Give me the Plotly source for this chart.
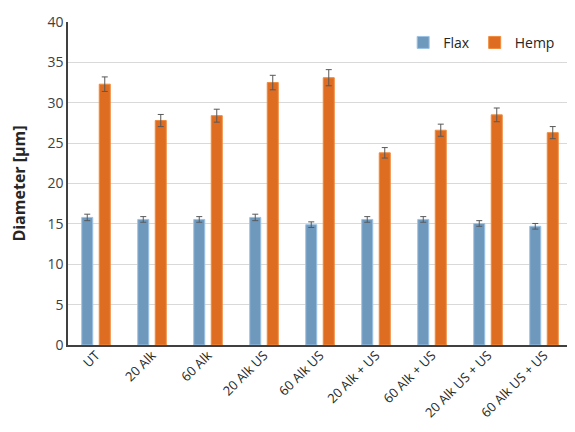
import plotly.graph_objects as go

categories = ["UT", "20 Alk", "60 Alk", "20 Alk US", "60 Alk US",
              "20 Alk + US", "60 Alk + US", "20 Alk US + US", "60 Alk US + US"]
flax = [15.8, 15.55, 15.55, 15.8, 14.9, 15.55, 15.55, 15.05, 14.7]
flax_err = [0.4, 0.35, 0.35, 0.4, 0.35, 0.35, 0.35, 0.35, 0.35]
hemp = [32.3, 27.8, 28.4, 32.5, 33.1, 23.8, 26.6, 28.5, 26.3]
hemp_err = [0.9, 0.75, 0.8, 0.9, 1.0, 0.65, 0.75, 0.85, 0.75]

fig = go.Figure()
fig.add_trace(go.Bar(
    name="Flax", x=categories, y=flax,
    marker=dict(color="#6f98bd", line=dict(color="#9cc3e5", width=1)),
    error_y=dict(type="data", array=flax_err, color="#595959", thickness=1, width=3),
))
fig.add_trace(go.Bar(
    name="Hemp", x=categories, y=hemp,
    marker=dict(color="#de6d22", line=dict(color="#f08a3c", width=1)),
    error_y=dict(type="data", array=hemp_err, color="#595959", thickness=1, width=3),
))

fig.update_layout(
    width=567, height=424,
    margin=dict(l=60, r=3, t=14, b=87, autoexpand=False),
    paper_bgcolor="white", plot_bgcolor="white",
    barmode="group", bargap=0.375, bargroupgap=0.37,
    font=dict(family="Open Sans, Liberation Sans, sans-serif", size=14, color="#404040"),
    legend=dict(orientation="h", x=0.665, xanchor="left", y=0.985, yanchor="top",
                font=dict(size=14, color="#262626"), bgcolor="rgba(0,0,0,0)",
                traceorder="normal"),
    yaxis=dict(range=[0, 40], dtick=5, showgrid=True, gridcolor="#d9d9d9", gridwidth=1,
               showline=True, linecolor="#404040", linewidth=1.5,
               ticks="", tickfont=dict(size=14, color="#404040"),
               title=dict(text="<b>Diameter [µm]</b>", font=dict(size=16, color="#262626"), standoff=18),
               zeroline=False),
    xaxis=dict(showline=True, linecolor="#404040", linewidth=1.5, tickangle=-45,
               ticks="", ticklabelstandoff=-4, tickfont=dict(size=13, color="#262626")),
)

fig.write_html("out.html")
